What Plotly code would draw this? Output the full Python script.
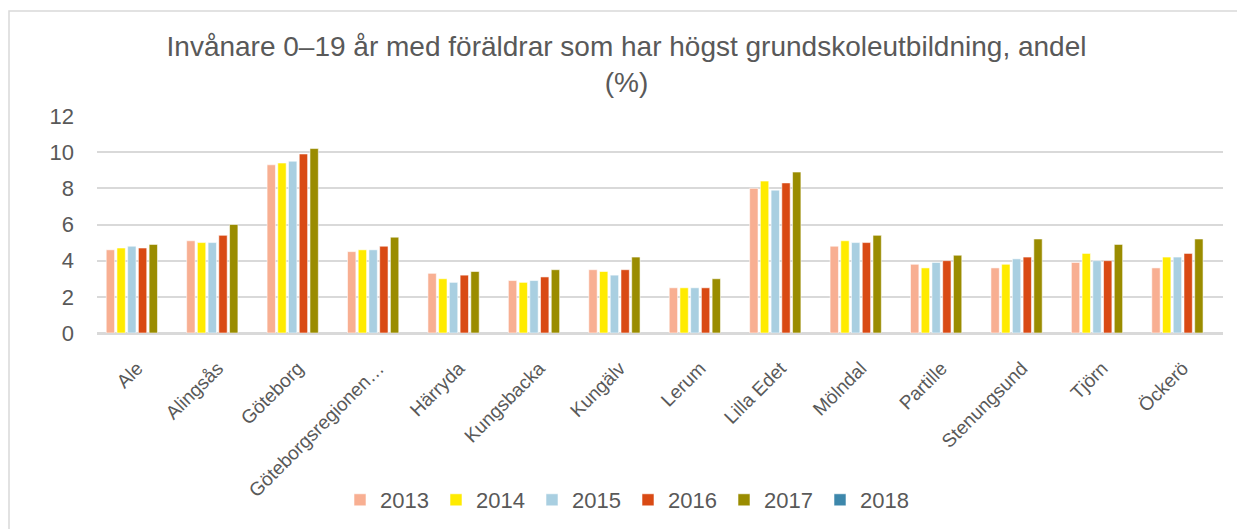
import plotly.graph_objects as go

categories = ["Ale", "Alingsås", "Göteborg", "Göteborgsregionen…", "Härryda", "Kungsbacka",
              "Kungälv", "Lerum", "Lilla Edet", "Mölndal", "Partille", "Stenungsund", "Tjörn", "Öckerö"]

v2013 = [4.6, 5.1, 9.3, 4.5, 3.3, 2.9, 3.5, 2.5, 8.0, 4.8, 3.8, 3.6, 3.9, 3.6]
v2014 = [4.7, 5.0, 9.4, 4.6, 3.0, 2.8, 3.4, 2.5, 8.4, 5.1, 3.6, 3.8, 4.4, 4.2]
v2015 = [4.8, 5.0, 9.5, 4.6, 2.8, 2.9, 3.2, 2.5, 7.9, 5.0, 3.9, 4.1, 4.0, 4.2]
v2016 = [4.7, 5.4, 9.9, 4.8, 3.2, 3.1, 3.5, 2.5, 8.3, 5.0, 4.0, 4.2, 4.0, 4.4]
v2017 = [4.9, 6.0, 10.2, 5.3, 3.4, 3.5, 4.2, 3.0, 8.9, 5.4, 4.3, 5.2, 4.9, 5.2]
v2018 = [None] * 14

series = [
    ("2013", v2013, "#F8AF92"),
    ("2014", v2014, "#FFEB00"),
    ("2015", v2015, "#A9CFE1"),
    ("2016", v2016, "#D94A14"),
    ("2017", v2017, "#9A8C00"),
    ("2018", v2018, "#3D87AB"),
]

title_text = "Invånare 0–19 år med föräldrar som har högst grundskoleutbildning, andel<br>(%)"

# page body has an 8px margin, so the figure is sized to the visible area
W, H = 1237, 521
ml, mr, mt, mb = 89, 22, 108, 196
pw, ph = W - ml - mr, H - mt - mb

fig = go.Figure()
for name, vals, col in series:
    fig.add_trace(go.Bar(
        name=name, x=categories, y=vals,
        marker=dict(color=col, line=dict(color="rgba(255,255,255,0.7)", width=0.8)),
    ))

font_family = "Liberation Sans, Arial, sans-serif"
grey = "#595959"

# outer chart border
fig.add_shape(type="rect", xref="paper", yref="paper",
              x0=(1 - ml) / pw, x1=(W + 20 - ml) / pw,
              y0=-(H + 20 - (H - mb)) / ph, y1=((H - mb) - 3) / ph,
              line=dict(color="#D9D9D9", width=1.5), fillcolor="rgba(0,0,0,0)", layer="below")

fig.update_layout(
    width=W, height=H,
    margin=dict(l=ml, r=mr, t=mt, b=mb, pad=0, autoexpand=False),
    paper_bgcolor="white", plot_bgcolor="white",
    barmode="group", bargap=0.2, bargroupgap=0.22,
    font=dict(family=font_family, color=grey),
    title=dict(text=title_text, x=0.5, xanchor="center", xref="container",
               y=1 - 48 / H, yanchor="top", yref="container",
               font=dict(size=28, color=grey, family=font_family)),
    xaxis=dict(tickangle=-45, tickfont=dict(size=19, color=grey), showgrid=False,
               showline=True, linecolor="#D9D9D9", linewidth=1.5, ticks="",
               automargin=False, ticklabelstandoff=15),
    yaxis=dict(range=[0, 12], dtick=2, tickfont=dict(size=22, color=grey),
               showgrid=True, gridcolor="#D9D9D9", gridwidth=1.5,
               zeroline=True, zerolinecolor="#D9D9D9", zerolinewidth=1.5,
               showline=False, ticks="", ticklabelstandoff=22, automargin=False),
    legend=dict(orientation="h", x=(332 - ml) / pw, xanchor="left",
                y=-(492 - (H - mb)) / ph, yanchor="middle",
                font=dict(size=22, color=grey), entrywidth=51, entrywidthmode="pixels",
                itemclick=False),
    showlegend=True,
)

fig.write_html("out.html")
